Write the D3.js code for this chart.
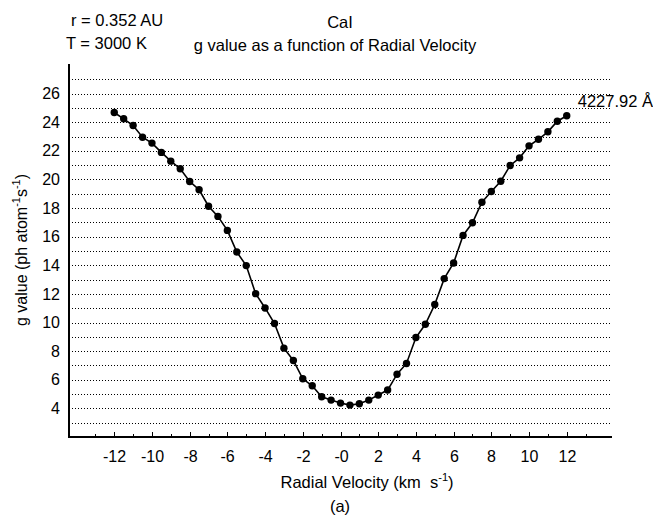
<!DOCTYPE html>
<html>
<head>
<meta charset="utf-8">
<script src="https://cdn.jsdelivr.net/npm/d3@7"></script>
<style>
  body { margin: 0; background: #fff; }
  svg { font-family: "Liberation Sans", Arial, Helvetica, sans-serif; }
</style>
</head>
<body>
<div id="chart"></div>
<script>
// radial velocity (km/s) and g value (ph atom^-1 s^-1)
var velocities = [-12, -11.5, -11, -10.5, -10, -9.5, -9, -8.5, -8, -7.5, -7, -6.5,
    -6, -5.5, -5, -4.5, -4, -3.5, -3, -2.5, -2, -1.5, -1, -0.5, 0, 0.5, 1, 1.5,
    2, 2.5, 3, 3.5, 4, 4.5, 5, 5.5, 6, 6.5, 7, 7.5, 8, 8.5, 9, 9.5, 10, 10.5,
    11, 11.5, 12];
var gValues = [24.68, 24.24, 23.77, 22.95, 22.54, 21.89, 21.28, 20.75, 19.86, 19.28, 18.13, 17.42,
    16.44, 14.93, 13.98, 12.02, 11.02, 9.93, 8.21, 7.35, 6.07, 5.58, 4.81, 4.58, 4.37, 4.23, 4.32, 4.58,
    4.93, 5.28, 6.39, 7.14, 8.95, 9.88, 11.26, 13.07, 14.16, 16.09, 16.97, 18.41, 19.16, 19.88, 20.98, 21.51, 22.35, 22.81,
    23.33, 24.07, 24.45];
var xMajorTicks = [-12, -10, -8, -6, -4, -2, 0, 2, 4, 6, 8, 10, 12];
var xMinorTicks = [-13, -11, -9, -7, -5, -3, -1, 1, 3, 5, 7, 9, 11, 13];
var yTicks = [4, 6, 8, 10, 12, 14, 16, 18, 20, 22, 24, 26];
var yGrid = [3, 4, 5, 6, 7, 8, 9, 10, 11, 12, 13, 14, 15, 16, 17, 18, 19, 20, 21, 22, 23, 24, 25, 26, 27];
var lineLabel = '4227.92 Å';

var width = 653, height = 520;
var plotL = 69, plotR = 612, plotT = 65, plotB = 437;
var fs = 16, fsTitle = 16.5;

var data = velocities.map((v, i) => ({ v: v, g: gValues[i] }));

var x = d3.scaleLinear().domain([-14.4, 14.4]).range([plotL, plotR]);
var y = d3.scaleLinear().domain([2, 28]).range([plotB, plotT]);
// rounded copies keep the 1px grid and ticks crisp
var xr = x.copy().interpolate(d3.interpolateRound);
var yr = y.copy().interpolate(d3.interpolateRound);

var svg = d3.select('#chart').append('svg')
    .attr('width', width)
    .attr('height', height);

// dotted horizontal grid
var grid = svg.append('g')
    .attr('transform', 'translate(' + plotL + ',0)')
    .call(d3.axisLeft(yr).tickValues(yGrid).tickSize(-(plotR - plotL)).tickFormat(''));
grid.select('.domain').remove();
grid.selectAll('.tick line')
    .attr('stroke', '#000')
    .attr('stroke-width', 1)
    .attr('stroke-dasharray', '1,2');

// y labels
var yAxis = svg.append('g')
    .attr('transform', 'translate(' + plotL + ',0)')
    .call(d3.axisLeft(y).tickValues(yTicks).tickSize(0).tickPadding(9));
yAxis.select('.domain').remove();
yAxis.selectAll('text').attr('font-size', fs).attr('fill', '#000')
    .attr('font-family', null);

// x ticks, pointing into the plot
var xMinor = svg.append('g')
    .attr('transform', 'translate(0,' + plotB + ')')
    .call(d3.axisBottom(xr).tickValues(xMinorTicks).tickSize(-3).tickFormat(''));
xMinor.select('.domain').remove();
xMinor.selectAll('.tick line').attr('stroke', '#000');
var xAxis = svg.append('g')
    .attr('transform', 'translate(0,' + plotB + ')')
    .call(d3.axisBottom(xr).tickValues(xMajorTicks).tickSize(-5).tickPadding(14)
        .tickFormat(d => d === 0 ? '-0' : d));
xAxis.select('.domain').remove();
xAxis.selectAll('.tick line').attr('stroke', '#000');
xAxis.selectAll('text').attr('font-size', fs).attr('fill', '#000')
    .attr('font-family', null);

// axis frame lines
svg.append('path')
    .attr('d', 'M' + plotL + ',' + (plotT - 1) + 'V' + plotB + 'H' + plotR)
    .attr('fill', 'none')
    .attr('stroke', '#000')
    .attr('stroke-width', 2);

// curve
svg.append('path')
    .datum(data)
    .attr('fill', 'none')
    .attr('stroke', '#000')
    .attr('stroke-width', 1.6)
    .attr('d', d3.line().x(d => x(d.v)).y(d => y(d.g)));

svg.append('g').selectAll('circle').data(data).enter()
    .append('circle')
    .attr('cx', d => x(d.v))
    .attr('cy', d => y(d.g))
    .attr('r', 3.7)
    .attr('fill', '#000');

var last = data[data.length - 1];
svg.append('text')
    .attr('x', x(last.v) + 11)
    .attr('y', y(last.g) - 9)
    .attr('font-size', fsTitle)
    .text(lineLabel);

// titles
svg.append('text').attr('x', 71).attr('y', 26).attr('font-size', fsTitle).text('r = 0.352 AU');
svg.append('text').attr('x', 66).attr('y', 49).attr('font-size', fsTitle).text('T = 3000 K');
svg.append('text').attr('x', 340).attr('y', 28).attr('font-size', fsTitle)
    .attr('text-anchor', 'middle').text('CaI');
svg.append('text').attr('x', 335).attr('y', 51).attr('font-size', fsTitle)
    .attr('text-anchor', 'middle').text('g value as a function of Radial Velocity');

// x axis title
var xt = svg.append('text').attr('x', 367).attr('y', 488).attr('font-size', fsTitle)
    .attr('text-anchor', 'middle').style('white-space', 'pre');
xt.append('tspan').text('Radial Velocity (km  s');
xt.append('tspan').attr('font-size', 11).attr('dy', -7).text('-1');
xt.append('tspan').attr('dy', 7).text(')');

svg.append('text').attr('x', 340).attr('y', 512).attr('font-size', fsTitle)
    .attr('text-anchor', 'middle').text('(a)');

// y axis title
var yt = svg.append('text')
    .attr('transform', 'translate(27,250) rotate(-90)')
    .attr('font-size', fs)
    .attr('text-anchor', 'middle');
yt.append('tspan').text('g value (ph atom');
yt.append('tspan').attr('font-size', 11).attr('dy', -7).text('-1');
yt.append('tspan').attr('dy', 7).text('s');
yt.append('tspan').attr('font-size', 11).attr('dy', -7).text('-1');
yt.append('tspan').attr('dy', 7).text(')');
</script>
</body>
</html>
